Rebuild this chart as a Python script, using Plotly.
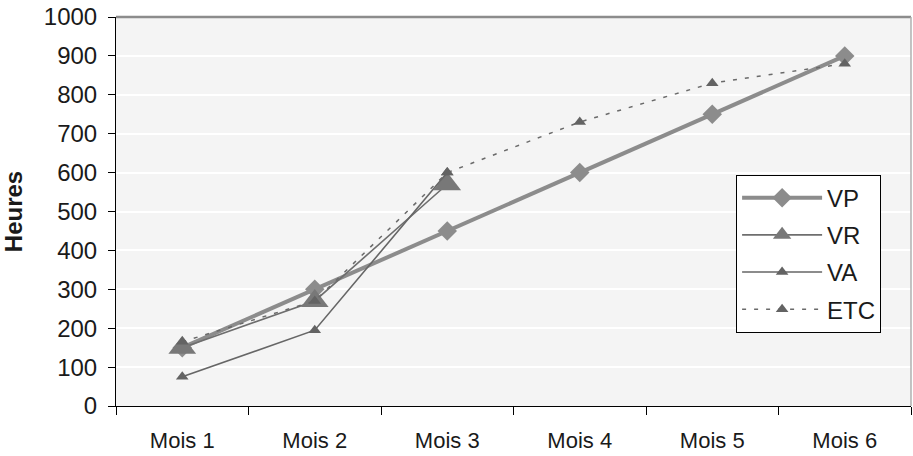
import plotly.graph_objects as go

# Categories and series (heures cumulées par mois)
months = ["Mois 1", "Mois 2", "Mois 3", "Mois 4", "Mois 5", "Mois 6"]
vp = [150, 300, 450, 600, 750, 900]
vr = [150, 270, 570, None, None, None]
va = [75, 195, 600, None, None, None]
etc = [165, 270, 600, 730, 830, 880]

FONT = "Liberation Sans, Arial, sans-serif"

fig = go.Figure()

fig.add_trace(go.Scatter(
    x=months, y=vp, name="VP", mode="lines+markers", legendgroup="vp",
    line=dict(color="#8c8c8c", width=4),
    marker=dict(symbol="diamond", size=15, color="#8c8c8c"),
))
fig.add_trace(go.Scatter(
    x=months, y=vr, name="VR", mode="lines+markers", legendgroup="vr",
    line=dict(color="#6e6e6e", width=1.6),
    marker=dict(symbol="triangle-up", size=24, color="#787878"),
))
fig.add_trace(go.Scatter(
    x=months, y=va, name="VA", mode="lines+markers", legendgroup="va",
    line=dict(color="#666666", width=1.6),
    marker=dict(symbol="triangle-up", size=11, color="#636363"),
))
fig.add_trace(go.Scatter(
    x=months, y=etc, name="ETC", mode="lines+markers", legendgroup="etc",
    line=dict(color="#6a6a6a", width=1.5, dash="4px,8px"),
    marker=dict(symbol="triangle-up", size=11, color="#636363"),
))

# Plot-area frame: grey top and right edges
fig.add_shape(type="line", xref="x domain", yref="y domain",
              x0=0, x1=1, y0=1, y1=1, line=dict(color="#8c8c8c", width=2.5))
fig.add_shape(type="line", xref="x domain", yref="y domain",
              x0=1, x1=1, y0=0, y1=1, line=dict(color="#b0b0b0", width=1.5))

fig.update_layout(
    width=913, height=456,
    margin=dict(l=116, r=2, t=17, b=50),
    paper_bgcolor="white",
    plot_bgcolor="#f4f4f4",
    font=dict(family=FONT, size=22, color="#1a1a1a"),
    showlegend=True,
    legend=dict(
        x=0.78, y=0.595, xanchor="left", yanchor="top",
        bgcolor="white", bordercolor="#000000", borderwidth=1,
        font=dict(family=FONT, size=24, color="#1a1a1a"),
        tracegroupgap=3, itemwidth=80,
    ),
)

fig.update_xaxes(
    type="category", range=[-0.5, 5.5],
    showline=True, linecolor="#000000", linewidth=1,
    ticks="outside", tickson="boundaries", ticklen=8, tickcolor="#000000",
    showgrid=False, ticklabelstandoff=15,
    tickfont=dict(family=FONT, size=22, color="#1a1a1a"),
)
fig.update_yaxes(
    range=[0, 1000], dtick=100,
    showline=True, linecolor="#000000", linewidth=1,
    ticks="outside", ticklen=7, tickcolor="#000000",
    showgrid=True, gridcolor="#ffffff", gridwidth=1.5,
    zeroline=False, ticklabelstandoff=6,
    tickfont=dict(family=FONT, size=24, color="#1a1a1a"),
    title=dict(text="<b>Heures</b>", standoff=16,
               font=dict(family=FONT, size=24, color="#1a1a1a")),
)

fig.write_html("out.html")
